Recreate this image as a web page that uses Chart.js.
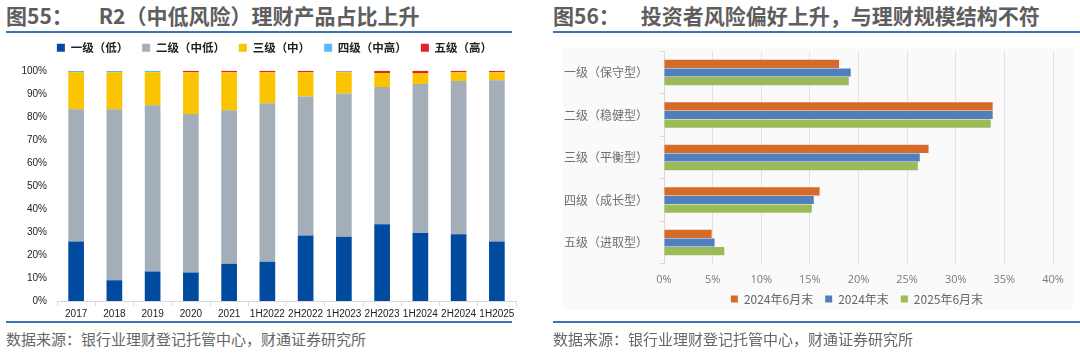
<!DOCTYPE html>
<html>
<head>
<meta charset="utf-8">
<script src="https://cdn.jsdelivr.net/npm/chart.js@4.4.0/dist/chart.umd.min.js"></script>
<style>
  html, body { margin:0; padding:0; background:#fff; }
  body { width:1080px; height:354px; position:relative; overflow:hidden; font-family:"Noto Sans CJK SC", sans-serif; }
  .title { position:absolute; top:3px; font-size:21px; line-height:24px; color:#5e5e5e; font-weight:bold; white-space:pre; }
  .title span { display:inline-block; }
  .rule { position:absolute; height:2px; background:#3D74B8; }
  .src { position:absolute; top:329px; font-size:15px; line-height:20px; color:#666; white-space:pre; }
  .box { position:absolute; }
  #bgR { position:absolute; left:563px; top:48px; width:510px; height:262px; background:#FAFAFA; }
</style>
</head>
<body>
<div class="title" style="left:6px;"><span>图55：</span><span style="margin-left:26px;">R2（中低风险）理财产品占比上升</span></div>
<div class="title" style="left:553px;"><span>图56：</span><span style="margin-left:21px;">投资者风险偏好上升，与理财规模结构不符</span></div>
<div class="rule" style="left:6px; width:506px; top:31px;"></div>
<div class="rule" style="left:553px; width:527px; top:31px;"></div>
<div id="bgR"></div>
<div class="box" style="left:0px; top:28px; width:530px; height:294px;"><canvas id="c1"></canvas></div>
<div class="box" style="left:553px; top:32px; width:527px; height:297px;"><canvas id="c2"></canvas></div>
<div class="rule" style="left:6px; width:506px; top:321px;"></div>
<div class="rule" style="left:553px; width:527px; top:321px;"></div>
<div class="src" style="left:6px;">数据来源：银行业理财登记托管中心，财通证券研究所</div>
<div class="src" style="left:553px;">数据来源：银行业理财登记托管中心，财通证券研究所</div>
<script>
// ---- Chart 1 data (share of products by risk level, %) ----
const periods = ["2017","2018","2019","2020","2021","1H2022","2H2022","1H2023","2H2023","1H2024","2H2024","1H2025"];
const riskNames = ["一级（低）","二级（中低）","三级（中）","四级（中高）","五级（高）"];
const level1 = [25.8, 9.0, 12.8, 12.4, 16.2, 17.0, 28.4, 27.9, 33.3, 29.5, 29.0, 25.8];
const level2 = [57.5, 74.3, 72.2, 68.8, 66.6, 68.9, 60.4, 62.2, 59.6, 64.7, 66.5, 70.1];
const level3 = [16.1, 16.1, 14.4, 18.1, 16.6, 13.4, 10.6, 9.2, 6.1, 4.8, 3.8, 3.4];
const level4 = [0.6, 0.6, 0.6, 0.0, 0.0, 0.0, 0.0, 0.4, 0.0, 0.0, 0.0, 0.0];
const level5 = [0.0, 0.0, 0.0, 0.7, 0.6, 0.7, 0.6, 0.3, 1.0, 1.0, 0.7, 0.7];
const yTicks1 = [0,10,20,30,40,50,60,70,80,90,100];

// ---- Chart 2 data (investor risk preference, %) ----
const investorTypes = ["一级（保守型）","二级（稳健型）","三级（平衡型）","四级（成长型）","五级（进取型）"];
const seriesNames2 = ["2024年6月末","2024年末","2025年6月末"];
const jun2024 = [18.0, 33.8, 27.2, 16.0, 4.9];
const end2024 = [19.2, 33.8, 26.3, 15.4, 5.2];
const jun2025 = [19.0, 33.6, 26.1, 15.2, 6.2];

const colors1 = ["#004B9F","#A3AEB9","#FAC500","#5BB8F2","#E0232B"];
const colors2 = ["#D56B28","#4F80BD","#9BBB59"];

// legend: extra height below items, plus a shift of where it is drawn
const legendAdjust = (extra, dx, dy) => ({
  id: 'legendAdjust',
  beforeInit(chart) {
    const lg = chart.legend;
    if (!lg) return;
    const fit = lg.fit;
    lg.fit = function () { fit.call(this); this.height += extra; };
  },
  afterLayout(chart) {
    const lg = chart.legend;
    if (!lg) return;
    lg.left += dx; lg.right += dx;
    lg.top += dy; lg.bottom += dy;
  }
});

new Chart(document.getElementById('c1'), {
  type: 'bar',
  data: {
    labels: periods,
    datasets: [level1, level2, level3, level4, level5].map((d, i) => ({
      label: riskNames[i], data: d, backgroundColor: colors1[i],
      barPercentage: 0.41, categoryPercentage: 1.0, borderWidth: 0
    }))
  },
  plugins: [legendAdjust(7.25, 16.5, 0)],
  options: {
    responsive: true, maintainAspectRatio: false, animation: false,
    layout: { padding: { top: 0, right: 14, left: 0, bottom: 0 } },
    plugins: {
      legend: {
        position: 'top',
        labels: { boxWidth: 8, boxHeight: 8, padding: 14, color: '#222',
          font: { family: '"Noto Sans CJK SC"', size: 11.5, weight: 'bold' } }
      },
      tooltip: { enabled: false }
    },
    scales: {
      x: {
        stacked: true,
        grid: { display: true, drawOnChartArea: false, offset: true, tickLength: 5, color: '#D9D9D9' },
        border: { color: '#D9D9D9' },
        ticks: { color: '#222', font: { family: '"Liberation Sans"', size: 10 }, padding: 2, maxRotation: 0, autoSkip: false }
      },
      y: {
        stacked: true, min: 0, max: 100,
        afterBuildTicks: (s) => { s.ticks = yTicks1.map(v => ({ value: v })); },
        afterFit: (s) => { s.width = 57; },
        grid: { display: false },
        border: { display: false },
        ticks: { color: '#222', font: { family: '"Liberation Sans"', size: 10 }, padding: 2,
          callback: (v) => v + '%' }
      }
    }
  }
});

new Chart(document.getElementById('c2'), {
  type: 'bar',
  data: {
    labels: investorTypes,
    datasets: [jun2024, end2024, jun2025].map((d, i) => ({
      label: seriesNames2[i], data: d, backgroundColor: colors2[i],
      barPercentage: 0.94, categoryPercentage: 0.61, borderWidth: 0
    }))
  },
  plugins: [legendAdjust(0, 54, -14)],
  options: {
    indexAxis: 'y',
    responsive: true, maintainAspectRatio: false, animation: false,
    layout: { padding: { top: 0, right: 27, left: 0, bottom: 0 } },
    plugins: {
      legend: {
        position: 'bottom',
        labels: { boxWidth: 7, boxHeight: 7, padding: 12, color: '#666',
          font: { family: '"Noto Sans CJK SC"', size: 12 } }
      },
      tooltip: { enabled: false }
    },
    scales: {
      x: {
        min: 0, max: 40,
        ticks: { stepSize: 5, color: '#7a7a7a', font: { family: '"Open Sans"', size: 11 }, padding: 9,
          callback: (v) => v + '%' },
        grid: { color: '#E3E3E3', drawTicks: false },
        border: { display: false }
      },
      y: {
        afterFit: (s) => { s.width = 111; },
        grid: { display: true, drawOnChartArea: false, offset: true, tickLength: 4, color: '#D9D9D9' },
        border: { color: '#D9D9D9' },
        ticks: { color: '#6e6e6e', font: { family: '"Noto Sans CJK SC"', size: 12 }, padding: 12 }
      }
    }
  }
});
</script>
</body>
</html>
